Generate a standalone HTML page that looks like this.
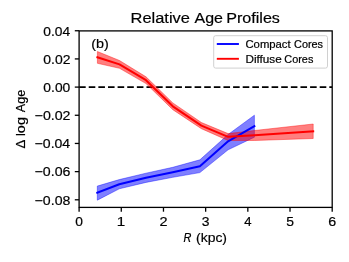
<!DOCTYPE html>
<html><head><meta charset="utf-8"><style>
html,body{margin:0;padding:0;background:#fff;width:349px;height:262px;overflow:hidden;}
svg{display:block;will-change:transform;filter:blur(0.35px);font-family:"Liberation Sans", sans-serif;}
</style></head><body><svg width="349" height="262" viewBox="0 0 349 262" font-family="&quot;Liberation Sans&quot;, sans-serif"><defs><clipPath id="ax"><rect x="79.1" y="30.9" width="253.10" height="176.50"/></clipPath></defs><rect width="349" height="262" fill="#fff"/><g clip-path="url(#ax)"><line x1="79.1" y1="87.1" x2="332.2" y2="87.1" stroke="#000" stroke-width="1.8" stroke-dasharray="6.6 3.024"/><polygon points="97.3,186.1 119.3,179.6 146.0,173.2 172.8,167.3 199.9,159.8 228.1,134.5 254.4,115.2 254.4,137.2 228.1,149.8 199.9,172.6 172.8,177.3 146.0,182.4 119.3,188.8 97.3,200.2" fill="#0000ff" fill-opacity="0.5" stroke="#0000ff" stroke-opacity="0.5" stroke-width="0.8" stroke-linejoin="round"/><polygon points="97.4,51.5 119.5,60.5 146.0,76.8 172.8,102.9 201.4,122.5 228.1,133.6 254.5,130.5 313.2,124.0 313.2,138.5 254.5,140.5 228.1,140.5 201.4,128.7 172.8,109.7 146.0,83.6 119.5,68.3 97.4,63.3" fill="#ff0000" fill-opacity="0.5" stroke="#ff0000" stroke-opacity="0.5" stroke-width="0.8" stroke-linejoin="round"/><polyline points="97.3,192.8 119.3,184.3 146.0,177.8 172.8,172.3 199.9,166.2 228.1,141.3 254.4,126.2" fill="none" stroke="#0000ff" stroke-width="2.0" stroke-linejoin="round" stroke-linecap="square"/><polyline points="97.4,57.3 119.5,64.4 146.0,80.2 172.8,106.3 201.4,125.6 228.1,136.8 254.5,135.3 313.2,131.4" fill="none" stroke="#ff0000" stroke-width="2.0" stroke-linejoin="round" stroke-linecap="square"/></g><rect x="79.1" y="30.9" width="253.10" height="176.50" fill="none" stroke="#000" stroke-width="1.3"/><line x1="79.10" y1="207.4" x2="79.10" y2="211.70" stroke="#000" stroke-width="1.3"/><line x1="121.28" y1="207.4" x2="121.28" y2="211.70" stroke="#000" stroke-width="1.3"/><line x1="163.47" y1="207.4" x2="163.47" y2="211.70" stroke="#000" stroke-width="1.3"/><line x1="205.65" y1="207.4" x2="205.65" y2="211.70" stroke="#000" stroke-width="1.3"/><line x1="247.83" y1="207.4" x2="247.83" y2="211.70" stroke="#000" stroke-width="1.3"/><line x1="290.02" y1="207.4" x2="290.02" y2="211.70" stroke="#000" stroke-width="1.3"/><line x1="332.20" y1="207.4" x2="332.20" y2="211.70" stroke="#000" stroke-width="1.3"/><line x1="74.80" y1="30.75" x2="79.1" y2="30.75" stroke="#000" stroke-width="1.3"/><line x1="74.80" y1="58.92" x2="79.1" y2="58.92" stroke="#000" stroke-width="1.3"/><line x1="74.80" y1="87.10" x2="79.1" y2="87.10" stroke="#000" stroke-width="1.3"/><line x1="74.80" y1="115.27" x2="79.1" y2="115.27" stroke="#000" stroke-width="1.3"/><line x1="74.80" y1="143.45" x2="79.1" y2="143.45" stroke="#000" stroke-width="1.3"/><line x1="74.80" y1="171.62" x2="79.1" y2="171.62" stroke="#000" stroke-width="1.3"/><line x1="74.80" y1="199.80" x2="79.1" y2="199.80" stroke="#000" stroke-width="1.3"/><text transform="translate(75.26,225.60) scale(1.0958,1)" font-size="12.6" font-style="normal" fill="#000" stroke="#000" stroke-width="0.183" >0</text><text transform="translate(116.82,225.60) scale(1.2149,1)" font-size="12.6" font-style="normal" fill="#000" stroke="#000" stroke-width="0.165" >1</text><text transform="translate(159.44,225.60) scale(1.1498,1)" font-size="12.6" font-style="normal" fill="#000" stroke="#000" stroke-width="0.174" >2</text><text transform="translate(201.82,225.60) scale(1.1048,1)" font-size="12.6" font-style="normal" fill="#000" stroke="#000" stroke-width="0.181" >3</text><text transform="translate(244.23,225.60) scale(1.0395,1)" font-size="12.6" font-style="normal" fill="#000" stroke="#000" stroke-width="0.192" >4</text><text transform="translate(286.16,225.60) scale(1.1048,1)" font-size="12.6" font-style="normal" fill="#000" stroke="#000" stroke-width="0.181" >5</text><text transform="translate(328.17,225.60) scale(1.1352,1)" font-size="12.6" font-style="normal" fill="#000" stroke="#000" stroke-width="0.176" >6</text><text transform="translate(43.36,35.50) scale(1.0946,1)" font-size="12.6" font-style="normal" fill="#000" stroke="#000" stroke-width="0.183" >0.04</text><text transform="translate(43.36,63.67) scale(1.1070,1)" font-size="12.6" font-style="normal" fill="#000" stroke="#000" stroke-width="0.181" >0.02</text><text transform="translate(43.36,91.85) scale(1.1003,1)" font-size="12.6" font-style="normal" fill="#000" stroke="#000" stroke-width="0.182" >0.00</text><text transform="translate(34.60,120.02) scale(1.1265,1)" font-size="12.6" font-style="normal" fill="#000" stroke="#000" stroke-width="0.178" >−0.02</text><text transform="translate(34.61,148.20) scale(1.1168,1)" font-size="12.6" font-style="normal" fill="#000" stroke="#000" stroke-width="0.179" >−0.04</text><text transform="translate(34.60,176.38) scale(1.1235,1)" font-size="12.6" font-style="normal" fill="#000" stroke="#000" stroke-width="0.178" >−0.06</text><text transform="translate(34.60,204.55) scale(1.1233,1)" font-size="12.6" font-style="normal" fill="#000" stroke="#000" stroke-width="0.178" >−0.08</text><text transform="translate(130.55,23.30) scale(1.0957,1)" font-size="15.0" font-style="normal" fill="#000" stroke="#000" stroke-width="0.183" >Relative</text><text transform="translate(194.57,23.30) scale(1.0656,1)" font-size="15.0" font-style="normal" fill="#000" stroke="#000" stroke-width="0.188" >Age</text><text transform="translate(226.18,23.30) scale(1.0758,1)" font-size="15.0" font-style="normal" fill="#000" stroke="#000" stroke-width="0.186" >Profiles</text><text transform="translate(91.21,47.80) scale(1.1793,1)" font-size="12.2" font-style="normal" fill="#000" stroke="#000" stroke-width="0.170" >(b)</text><text transform="translate(183.46,241.50) scale(0.8933,1)" font-size="12.2" font-style="italic" fill="#000" stroke="#000" stroke-width="0.224" >R</text><text transform="translate(196.03,241.60) scale(1.1083,1)" font-size="12.6" font-style="normal" fill="#000" stroke="#000" stroke-width="0.180" >(kpc)</text><g transform="translate(24.8,148.0) rotate(-90)"><text transform="translate(-0.39,0.00) scale(1.0201,1)" font-size="12.9" font-style="normal" fill="#000" stroke="#000" stroke-width="0.196" >Δ</text><text transform="translate(11.63,0.00) scale(1.1216,1)" font-size="12.9" font-style="normal" fill="#000" stroke="#000" stroke-width="0.178" >log</text><text transform="translate(35.78,0.00) scale(0.9752,1)" font-size="12.9" font-style="normal" fill="#000" stroke="#000" stroke-width="0.205" >Age</text></g><rect x="213.7" y="35.7" width="113.8" height="32.4" rx="2" ry="2" fill="#fff" fill-opacity="0.8" stroke="#d0d0d0" stroke-width="1"/><line x1="216.8" y1="44.0" x2="238.9" y2="44.0" stroke="#0000ff" stroke-width="1.9"/><line x1="216.8" y1="58.8" x2="238.9" y2="58.8" stroke="#ff0000" stroke-width="1.9"/><text transform="translate(245.43,47.90) scale(1.0570,1)" font-size="10.7" font-style="normal" fill="#000" stroke="#000" stroke-width="0.189" >Compact</text><text transform="translate(294.05,47.90) scale(1.0177,1)" font-size="10.7" font-style="normal" fill="#000" stroke="#000" stroke-width="0.197" >Cores</text><text transform="translate(245.44,62.90) scale(1.0986,1)" font-size="10.7" font-style="normal" fill="#000" stroke="#000" stroke-width="0.182" >Diffuse</text><text transform="translate(284.35,62.90) scale(1.0177,1)" font-size="10.7" font-style="normal" fill="#000" stroke="#000" stroke-width="0.197" >Cores</text></svg></body></html>
